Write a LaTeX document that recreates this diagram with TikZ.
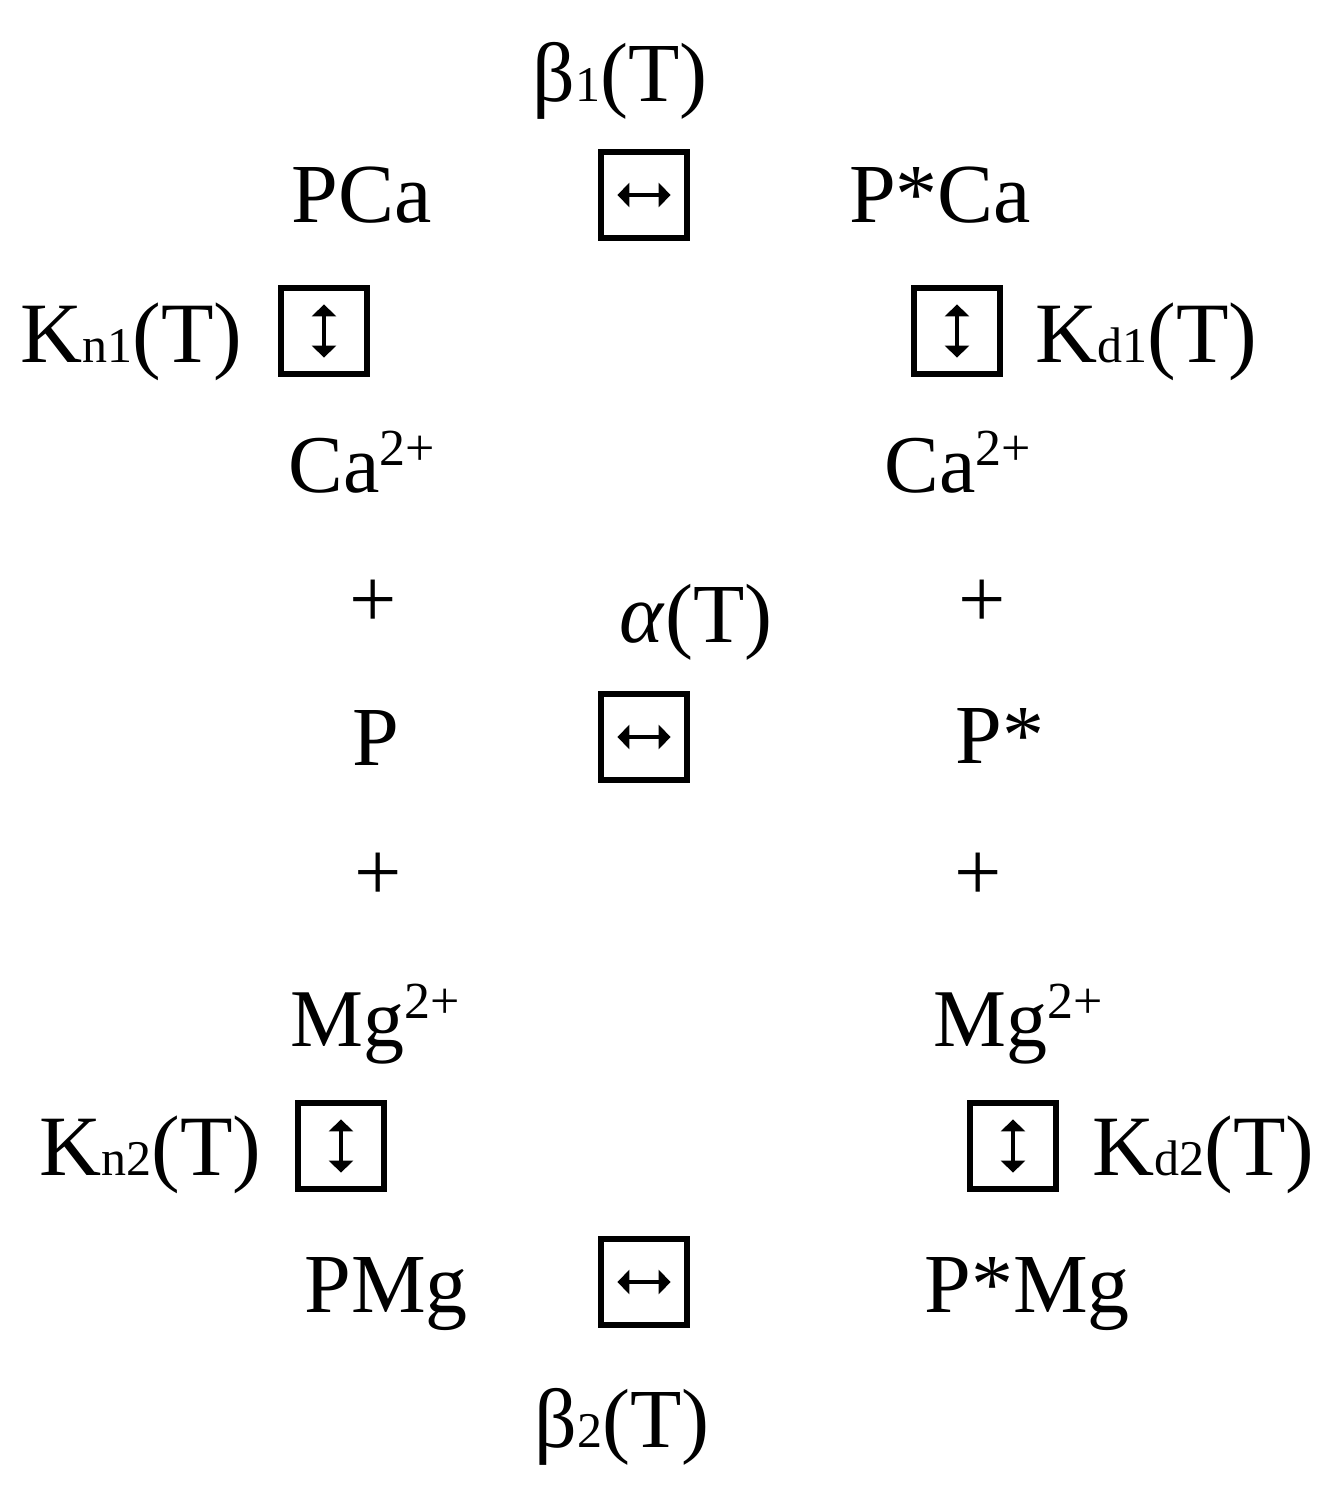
\documentclass[tikz,border=0pt]{standalone}
\usepackage{fontspec}
\setmainfont{Liberation Serif}
\usetikzlibrary{arrows.meta}
\newcommand\lo[1]{{\fontsize{25}{28}\selectfont #1}}
\newcommand\hi[1]{\raisebox{0.33em}{\fontsize{26}{30}\selectfont #1}}
\tikzset{
  lab/.style={inner sep=0pt, font=\fontsize{42}{50}\selectfont},
  klab/.style={inner sep=0pt, font=\fontsize{43}{50}\selectfont},
  ion/.style={inner sep=0pt, font=\fontsize{41}{48}\selectfont},
  rbox/.style={draw, line width=3.2pt, minimum size=43pt, inner sep=0pt},
  arr/.style={line width=2.3pt, {Triangle[length=6pt,width=12pt]}-{Triangle[length=6pt,width=12pt]}}
}
\begin{document}
\begin{tikzpicture}[x=0.5pt,y=-0.5pt]
\useasboundingbox (0,0) rectangle (1331,1491);
% rate labels
\node[lab, anchor=base] (b1) at (620,102) {β\lo{1}(T)};
\node[lab, anchor=base] (b2) at (622,1447) {β\lo{2}(T)};
\node[lab, anchor=base] (al) at (696,642) {\textit{α}(T)};
\node[klab, anchor=base east] (kn1) at (243,363) {K\lo{n1}(T)};
\node[klab, anchor=base west] (kd1) at (1035,363) {K\lo{d1}(T)};
\node[klab, anchor=base east] (kn2) at (262,1175) {K\lo{n2}(T)};
\node[klab, anchor=base west] (kd2) at (1092,1175) {K\lo{d2}(T)};
% species
\node[lab, anchor=base] (pca) at (362,223) {PCa};
\node[lab, anchor=base] (psca) at (940,223) {P*Ca};
\node[ion, anchor=base] (ca1) at (362,493) {Ca\hi{2+}};
\node[ion, anchor=base] (ca2) at (958,493) {Ca\hi{2+}};
\node[lab] (pl1) at (373,604) {+};
\node[lab] (pl2) at (982,604) {+};
\node[lab, anchor=base] (p) at (376,765) {P};
\node[lab, anchor=base] (ps) at (1000,763) {P*};
\node[lab] (pl3) at (378,877) {+};
\node[lab] (pl4) at (978,877) {+};
\node[ion, anchor=base] (mg1) at (375,1046) {Mg\hi{2+}};
\node[ion, anchor=base] (mg2) at (1018,1046) {Mg\hi{2+}};
\node[lab, anchor=base] (pmg) at (386,1312) {PMg};
\node[lab, anchor=base] (psmg) at (1027,1312) {P*Mg};
% boxes
\node[rbox] (bx1) at (644,195) {};
\node[rbox] (bx2) at (324,331) {};
\node[rbox] (bx3) at (957,331) {};
\node[rbox] (bx4) at (644,737) {};
\node[rbox] (bx5) at (341,1146) {};
\node[rbox] (bx6) at (1013,1146) {};
\node[rbox] (bx7) at (644,1282) {};
\draw[arr] ([xshift=-13.3pt]bx1.center) -- ([xshift=13.3pt]bx1.center);
\draw[arr] ([xshift=-13.3pt]bx4.center) -- ([xshift=13.3pt]bx4.center);
\draw[arr] ([xshift=-13.3pt]bx7.center) -- ([xshift=13.3pt]bx7.center);
\draw[arr] ([yshift=13.3pt]bx2.center) -- ([yshift=-13.3pt]bx2.center);
\draw[arr] ([yshift=13.3pt]bx3.center) -- ([yshift=-13.3pt]bx3.center);
\draw[arr] ([yshift=13.3pt]bx5.center) -- ([yshift=-13.3pt]bx5.center);
\draw[arr] ([yshift=13.3pt]bx6.center) -- ([yshift=-13.3pt]bx6.center);
\end{tikzpicture}
\end{document}
